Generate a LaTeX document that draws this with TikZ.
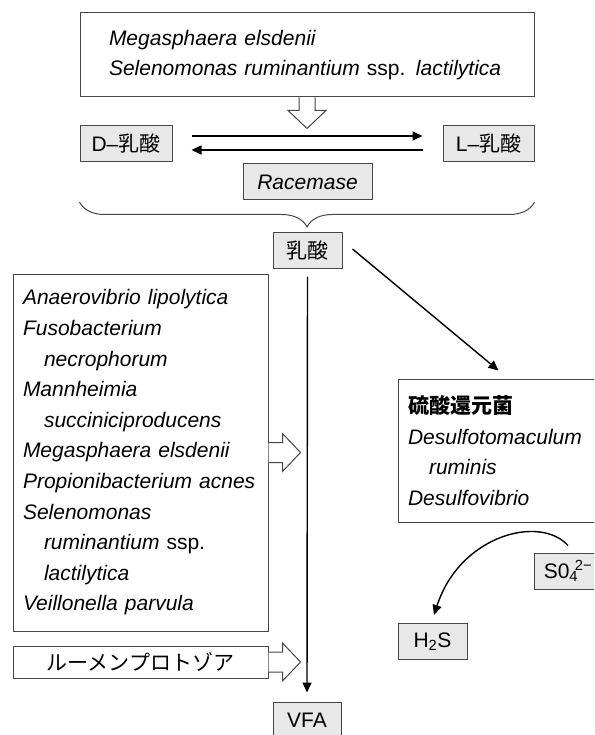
\documentclass[tikz,border=0pt]{standalone}
\usepackage{fontspec}
\setmainfont{Liberation Sans}
\newfontfamily\jp{Noto Sans CJK JP}
\usepackage{tikz}
\usetikzlibrary{arrows.meta, calc, decorations.pathreplacing}
\definecolor{boxgray}{RGB}{232, 232, 232}
\definecolor{edgegray}{RGB}{70, 70, 70}

\begin{document}
\begin{tikzpicture}[
    x=1pt, y=-1pt,
    font={\fontsize{21}{30.6}\selectfont},
    chembox/.style={rectangle, draw=edgegray, line width=1pt, fill=boxgray,
                    inner sep=0pt, minimum height=36pt},
    listbox/.style={rectangle, draw=edgegray, line width=1pt, fill=white,
                    inner ysep=0pt, align=left},
    flow/.style={line width=1.4pt, -{Triangle[length=10pt, width=9pt]}},
    hollow/.style={draw=edgegray, line width=1pt, fill=white},
    bracedown/.style={draw=edgegray, line width=1pt,
                      decorate, decoration={brace, mirror, amplitude=25pt}}
]
    \useasboundingbox (0,0) rectangle (594,735);
    \clip (0,0) rectangle (594,735);

    % lactate producers and racemisation
    \node[listbox, minimum width=454pt, minimum height=84pt, text width=396pt,
          inner xsep=29pt] (top) at (307,55) {
        \textit{Megasphaera elsdenii}\\
        \textit{Selenomonas ruminantium} ssp. \textit{lactilytica}
    };
    \node[chembox, minimum width=92pt] (dlac) at (126,143.5) {D–{\jp 乳酸}};
    \node[chembox, minimum width=91pt] (llac) at (488.5,143.5) {L–{\jp 乳酸}};
    \node[chembox, minimum width=129pt] (racemase) at (307.5,182) {\textit{Racemase}};
    \node[chembox, minimum width=69pt] (lac) at (307.5,250) {\jp 乳酸};

    % fermenters to VFA
    \node[listbox, minimum width=255pt, minimum height=357pt, text width=235pt,
          inner xsep=10pt] (fermenters) at (140.5,452.5) {
        \textit{Anaerovibrio lipolytica}\\
        \textit{Fusobacterium}\\
        \hspace*{1em}\textit{necrophorum}\\
        \textit{Mannheimia}\\
        \hspace*{1em}\textit{succiniciproducens}\\
        \textit{Megasphaera elsdenii}\\
        \textit{Propionibacterium acnes}\\
        \textit{Selenomonas}\\
        \hspace*{1em}\textit{ruminantium} ssp.\\
        \hspace*{1em}\textit{lactilytica}\\
        \textit{Veillonella parvula}
    };
    \node[listbox, minimum width=255pt, minimum height=32pt] (protozoa) at (140.5,662)
        {\jp ルーメンプロトゾア};
    \node[chembox, minimum width=68pt] (vfa) at (307,720) {VFA};

    % sulfate reducers
    \node[listbox, minimum width=212pt, minimum height=143pt, text width=192pt,
          inner xsep=10pt] (sulfate) at (504,450.5) {
        {\jp\bfseries 硫酸還元菌}\\
        \textit{Desulfotomaculum}\\
        \hspace*{1em}\textit{ruminis}\\
        \textit{Desulfovibrio}
    };
    \node[chembox, minimum width=68pt] (so4) at (568,571)
        {S0\textsubscript{4}\hspace{-0.15em}\textsuperscript{2−}};
    \node[chembox, minimum width=69pt] (h2s) at (432.5,641.5) {H\textsubscript{2}S};

    % hollow arrows
    \draw[hollow] ($(top.south)+(-8,0)$) -- ++(0,13) -- ++(-11,0) -- ++(19,18)
        -- ++(19,-18) -- ++(-11,0) -- ++(0,-13);
    \draw[hollow] ($(fermenters.east)+(0,-10)$) -- ++(14,0) -- ++(0,-9) -- ++(18,19)
        -- ++(-18,19) -- ++(0,-9) -- ++(-14,0);
    \draw[hollow] ($(protozoa.east)+(0,-10)$) -- ++(14,0) -- ++(0,-9) -- ++(18,19)
        -- ++(-18,19) -- ++(0,-9) -- ++(-14,0);

    % connectors
    \draw[flow] ($(dlac.east)+(19,-7.5)$) -- ($(llac.west)+(-20,-7.5)$);
    \draw[flow] ($(llac.west)+(-20,6.5)$) -- ($(dlac.east)+(19,6.5)$);
    \draw[bracedown] ($(dlac.south west)+(0,40)$) -- ($(llac.south east)+(0,40)$);
    \draw[flow, shorten <=8pt, shorten >=9pt] (lac.south) -- (vfa.north);
    \draw[flow] ($(lac.east)+(10,-1)$) -- ($(sulfate.north west)+(101,-8)$);
    \draw[flow] ($(so4.north)+(0,-7)$) .. controls +(-28,-31) and +(26,-80)
        .. ($(h2s.north)+(1.5,-8)$);
\end{tikzpicture}
\end{document}
